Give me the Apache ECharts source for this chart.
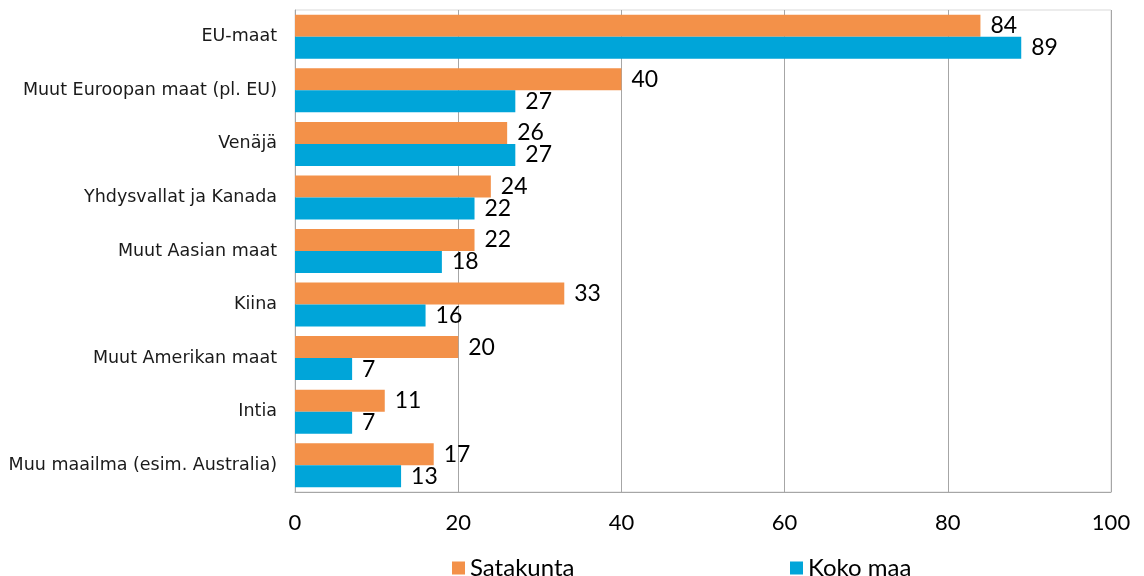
<!DOCTYPE html>
<html><head><meta charset="utf-8">
<script src="https://cdn.jsdelivr.net/npm/echarts@6/dist/echarts.min.js"></script>
<style>html,body{margin:0;padding:0;background:#fff}#c{width:1144px;height:576px}</style>
</head><body><div id="c"></div>
<script>
const categories = ["EU-maat","Muut Euroopan maat (pl. EU)","Venäjä","Yhdysvallat ja Kanada","Muut Aasian maat","Kiina","Muut Amerikan maat","Intia","Muu maailma (esim. Australia)"];
const satakunta = [84,40,26,24,22,33,20,11,17];
const kokoMaa = [89,27,27,22,18,16,7,7,13];
const xTicks = {min:0,max:100,interval:20};

const numFont = "Lato";
const chart = echarts.init(document.getElementById('c'));
const lbl = {show:true,position:'right',distance:10,color:'#000',fontSize:23,fontFamily:numFont};
const legText = {fontSize:24,fontFamily:numFont,color:'#000'};
chart.setOption({
  animation:false,
  grid:{left:295,right:33,top:10,bottom:84,show:true,borderColor:'#d9d9d9',borderWidth:1},
  legend:[
    {data:['Satakunta'],left:447,top:551,itemWidth:13,itemHeight:13,icon:'rect',itemGap:6,textStyle:legText},
    {data:['Koko maa'],left:785,top:551,itemWidth:13,itemHeight:13,icon:'rect',itemGap:6,textStyle:legText}
  ],
  xAxis:{type:'value',min:xTicks.min,max:xTicks.max,interval:xTicks.interval,
    axisLine:{show:true,lineStyle:{color:'#a6a6a6'}},axisTick:{show:false},
    axisLabel:{fontSize:22,fontFamily:numFont,color:'#000',margin:20},
    splitLine:{lineStyle:{color:'#a6a6a6'}}},
  yAxis:{type:'category',data:categories,inverse:true,
    axisLine:{show:true,lineStyle:{color:'#a6a6a6'}},axisTick:{show:false},
    axisLabel:{fontSize:17.5,fontFamily:"'DejaVu Sans'",color:'#1a1a1a',margin:18}},
  series:[
    {name:'Satakunta',type:'bar',data:satakunta,barWidth:22,barGap:'0%',itemStyle:{color:'#F39149'},label:lbl},
    {name:'Koko maa',type:'bar',data:kokoMaa,barWidth:22,barGap:'0%',itemStyle:{color:'#00A5D9'},label:lbl}
  ]
});
</script></body></html>
